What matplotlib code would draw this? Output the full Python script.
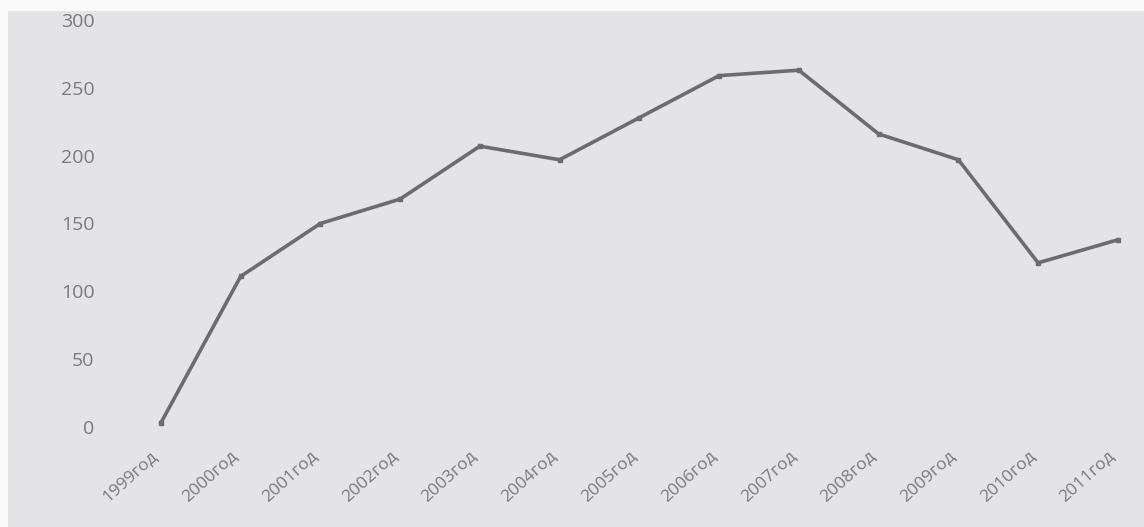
import matplotlib
matplotlib.use("Agg")
import matplotlib.pyplot as plt
from matplotlib.patches import Rectangle

years = ["1999год", "2000год", "2001год", "2002год", "2003год", "2004год", "2005год",
         "2006год", "2007год", "2008год", "2009год", "2010год", "2011год"]
values = [3, 111, 150, 168, 207, 197, 228, 259, 263, 216, 197, 121, 138]
yticks = [0, 50, 100, 150, 200, 250, 300]

W, H = 1144, 527
fig = plt.figure(figsize=(W / 100, H / 100), dpi=100)
fig.patch.set_facecolor("#e4e4e6")

# white photo borders
fig.patches.append(Rectangle((0, 0), 8 / W, 1, transform=fig.transFigure,
                             facecolor="#fafafa", edgecolor="none", zorder=0))
fig.patches.append(Rectangle((0, 1 - 11 / H), 1, 11 / H, transform=fig.transFigure,
                             facecolor="#fafafa", edgecolor="none", zorder=0))

left_px, right_px = 121, W
bottom_px, top_px = 427, 20
ax = fig.add_axes([left_px / W, 1 - bottom_px / H,
                   (right_px - left_px) / W, (bottom_px - top_px) / H])
ax.set_facecolor("none")

x = list(range(len(years)))
ax.plot(x, values, color="#6c6c6c", linewidth=2.6, marker="s", markersize=3,
        solid_joinstyle="miter")

spacing = 79.75
ax.set_xlim(-0.5, (right_px - left_px) / spacing - 0.5)
ax.set_ylim(0, 300)
ax.set_yticks(yticks)
ax.set_yticklabels([str(v) for v in yticks], fontsize=14, color="#7a7a7a",
                   family=["Open Sans", "DejaVu Sans"])
ax.set_xticks(x)
ax.set_xticklabels(years, rotation=42, ha="right", fontsize=12.5, color="#7a7a7a",
                   family=["Open Sans", "DejaVu Sans"])
ax.tick_params(axis="y", length=0, pad=19)
ax.tick_params(axis="x", length=0, pad=15)
for s in ax.spines.values():
    s.set_visible(False)

fig.savefig("out.png", dpi=100, facecolor=fig.get_facecolor())
